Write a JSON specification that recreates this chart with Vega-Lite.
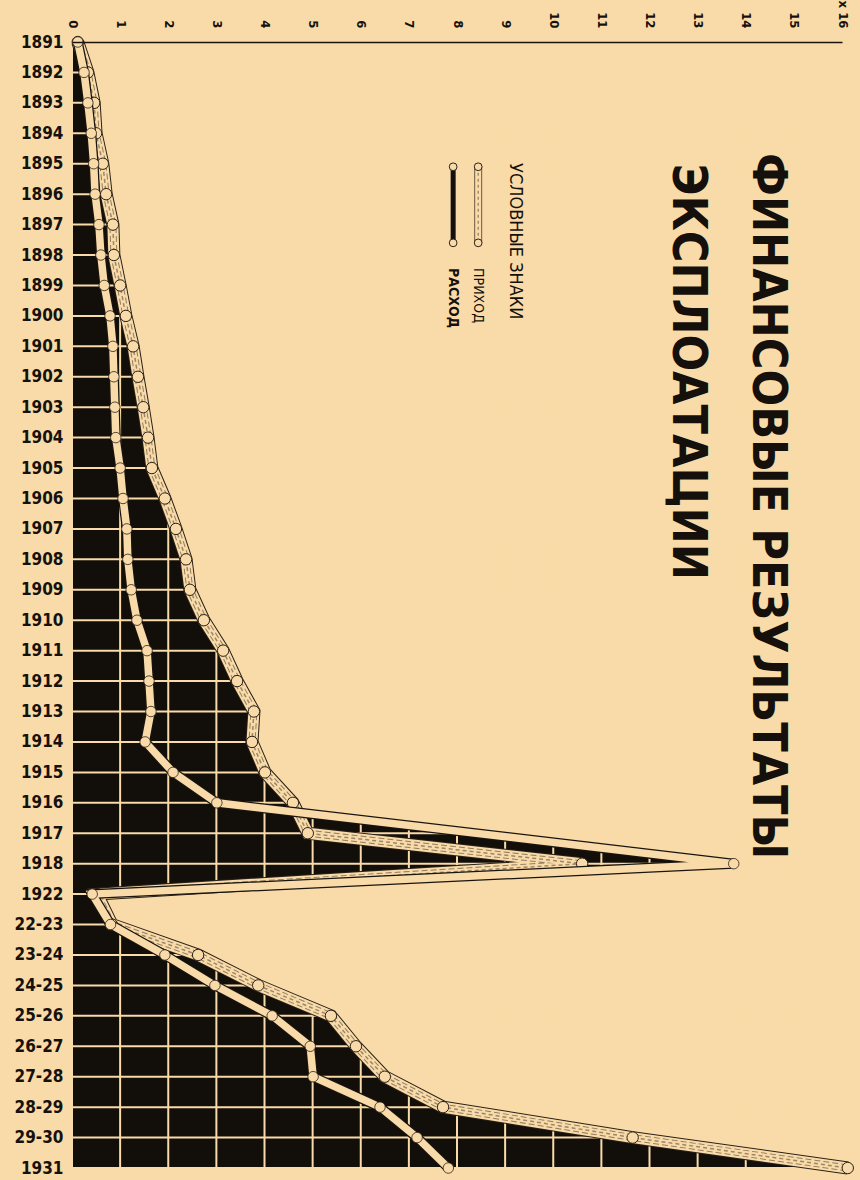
{
  "$schema": "https://vega.github.io/schema/vega-lite/v6.json",
  "width": 770,
  "height": 1126,
  "autosize": {"type": "none"},
  "padding": {"left": 72, "top": 42, "right": 18, "bottom": 12},
  "background": "#f9dba9",
  "config": {"view": {"stroke": null}},
  "resolve": {"axis": {"x": "independent", "y": "independent"}},
  "datasets": {
    "finance": [
      {"period": "1891", "i": 0, "income": 0.12, "expense": 0.12},
      {"period": "1892", "i": 1, "income": 0.33, "expense": 0.25},
      {"period": "1893", "i": 2, "income": 0.46, "expense": 0.33},
      {"period": "1894", "i": 3, "income": 0.5, "expense": 0.4},
      {"period": "1895", "i": 4, "income": 0.64, "expense": 0.45},
      {"period": "1896", "i": 5, "income": 0.71, "expense": 0.48},
      {"period": "1897", "i": 6, "income": 0.85, "expense": 0.56},
      {"period": "1898", "i": 7, "income": 0.87, "expense": 0.6},
      {"period": "1899", "i": 8, "income": 1.0, "expense": 0.67},
      {"period": "1900", "i": 9, "income": 1.12, "expense": 0.79},
      {"period": "1901", "i": 10, "income": 1.27, "expense": 0.85},
      {"period": "1902", "i": 11, "income": 1.37, "expense": 0.87},
      {"period": "1903", "i": 12, "income": 1.48, "expense": 0.89},
      {"period": "1904", "i": 13, "income": 1.58, "expense": 0.91},
      {"period": "1905", "i": 14, "income": 1.66, "expense": 1.0},
      {"period": "1906", "i": 15, "income": 1.93, "expense": 1.06},
      {"period": "1907", "i": 16, "income": 2.16, "expense": 1.14},
      {"period": "1908", "i": 17, "income": 2.37, "expense": 1.16},
      {"period": "1909", "i": 18, "income": 2.45, "expense": 1.23},
      {"period": "1910", "i": 19, "income": 2.74, "expense": 1.35},
      {"period": "1911", "i": 20, "income": 3.14, "expense": 1.56},
      {"period": "1912", "i": 21, "income": 3.43, "expense": 1.6},
      {"period": "1913", "i": 22, "income": 3.78, "expense": 1.64},
      {"period": "1914", "i": 23, "income": 3.74, "expense": 1.52},
      {"period": "1915", "i": 24, "income": 4.01, "expense": 2.1},
      {"period": "1916", "i": 25, "income": 4.59, "expense": 3.01},
      {"period": "1917", "i": 26, "income": 4.9, "expense": null},
      {"period": "1918", "i": 27, "income": 10.6, "expense": 13.75},
      {"period": "1922", "i": 28, "income": 0.52, "expense": 0.42},
      {"period": "22-23", "i": 29, "income": 0.83, "expense": 0.8},
      {"period": "23-24", "i": 30, "income": 2.62, "expense": 1.93},
      {"period": "24-25", "i": 31, "income": 3.87, "expense": 2.97},
      {"period": "25-26", "i": 32, "income": 5.38, "expense": 4.16},
      {"period": "26-27", "i": 33, "income": 5.9, "expense": 4.95},
      {"period": "27-28", "i": 34, "income": 6.5, "expense": 5.01},
      {"period": "28-29", "i": 35, "income": 7.71, "expense": 6.4},
      {"period": "29-30", "i": 36, "income": 11.65, "expense": 7.17},
      {"period": "1931", "i": 37, "income": 16.12, "expense": 7.82}
    ],
    "scaleTicks": [
      {"v": 0}, {"v": 1}, {"v": 2}, {"v": 3}, {"v": 4}, {"v": 5}, {"v": 6}, {"v": 7}, {"v": 8},
      {"v": 9}, {"v": 10}, {"v": 11}, {"v": 12}, {"v": 13}, {"v": 14}, {"v": 15}, {"v": 16}
    ]
  },
  "layer": [
    {
      "data": {"name": "finance"},
      "encoding": {
        "y": {
          "field": "i", "type": "quantitative",
          "scale": {"domain": [0, 37], "reverse": true, "nice": false, "zero": false},
          "axis": {
            "title": null,
            "values": [0,1,2,3,4,5,6,7,8,9,10,11,12,13,14,15,16,17,18,19,20,21,22,23,24,25,26,27,28,29,30,31,32,33,34,35,36,37],
            "labelExpr": "['1891','1892','1893','1894','1895','1896','1897','1898','1899','1900','1901','1902','1903','1904','1905','1906','1907','1908','1909','1910','1911','1912','1913','1914','1915','1916','1917','1918','1922','22-23','23-24','24-25','25-26','26-27','27-28','28-29','29-30','1931'][datum.value]",
            "labelOverlap": false,
            "domain": false,
            "ticks": false,
            "grid": false,
            "labelPadding": 9,
            "labelFont": "DejaVu Sans Condensed, DejaVu Sans, sans-serif",
            "labelFontSize": 17,
            "labelFontWeight": "bold",
            "labelColor": "#17110c"
          }
        }
      },
      "layer": [
        {
          "mark": {"type": "area", "orient": "horizontal", "color": "#120e09"},
          "encoding": {
            "x": {
              "field": "income", "type": "quantitative",
              "scale": {"domain": [0, 16], "nice": false, "zero": true},
              "axis": {
                "orient": "top",
                "title": null,
                "values": [0,1,2,3,4,5,6,7,8,9,10,11,12,13,14,15,16],
                "labelExpr": "datum.value == 16 ? 'x 16' : datum.label",
                "labelOverlap": false,
                "labelAngle": 90,
                "labelAlign": "right",
                "labelBaseline": "middle",
                "labelPadding": 14,
                "labelFont": "DejaVu Sans Condensed, DejaVu Sans, sans-serif",
                "labelFontSize": 13,
                "labelFontWeight": "bold",
                "labelColor": "#17110c",
                "ticks": false,
                "grid": false,
                "domainColor": "#1a140e",
                "domainWidth": 1.5,
                "zindex": 1
              }
            }
          }
        },
        {
          "transform": [{"filter": "datum.expense != null"}],
          "mark": {"type": "area", "orient": "horizontal", "color": "#120e09"},
          "encoding": {"x": {"field": "expense", "type": "quantitative"}}
        },
        {
          "mark": {"type": "rule", "color": "#f9dba9", "strokeWidth": 2},
          "encoding": {"x": {"datum": 0, "type": "quantitative"}, "x2": {"datum": 16}}
        }
      ]
    },
    {
      "data": {"name": "scaleTicks"},
      "mark": {"type": "rule", "color": "#f9dba9", "strokeWidth": 2},
      "encoding": {
        "x": {"field": "v", "type": "quantitative", "axis": null},
        "y": {"datum": 0, "type": "quantitative", "axis": null},
        "y2": {"datum": 37}
      }
    },
    {
      "data": {"name": "finance"},
      "encoding": {
        "y": {"field": "i", "type": "quantitative", "axis": null}
      },
      "layer": [
        {
          "mark": {"type": "line", "color": "#2b2118", "strokeWidth": 13},
          "encoding": {"x": {"field": "income", "type": "quantitative", "axis": null}, "order": {"field": "i", "type": "quantitative"}}
        },
        {
          "mark": {"type": "line", "color": "#f9dba9", "strokeWidth": 11},
          "encoding": {"x": {"field": "income", "type": "quantitative", "axis": null}, "order": {"field": "i", "type": "quantitative"}}
        },
        {
          "mark": {"type": "line", "color": "#2b2118", "strokeWidth": 7, "strokeDash": [6, 3], "opacity": 0.5},
          "encoding": {"x": {"field": "income", "type": "quantitative", "axis": null}, "order": {"field": "i", "type": "quantitative"}}
        },
        {
          "mark": {"type": "line", "color": "#f9dba9", "strokeWidth": 5},
          "encoding": {"x": {"field": "income", "type": "quantitative", "axis": null}, "order": {"field": "i", "type": "quantitative"}}
        },
        {
          "mark": {"type": "line", "color": "#2b2118", "strokeWidth": 1.5, "strokeDash": [4, 3], "opacity": 0.45},
          "encoding": {"x": {"field": "income", "type": "quantitative", "axis": null}, "order": {"field": "i", "type": "quantitative"}}
        },
        {
          "mark": {"type": "point", "filled": true, "fill": "#f9dba9", "stroke": "#2b2118", "strokeWidth": 1, "size": 130, "opacity": 1},
          "encoding": {"x": {"field": "income", "type": "quantitative", "axis": null}}
        },
        {
          "transform": [{"filter": "datum.expense != null"}],
          "mark": {"type": "line", "color": "#1a140e", "strokeWidth": 10},
          "encoding": {"x": {"field": "expense", "type": "quantitative", "axis": null}, "order": {"field": "i", "type": "quantitative"}}
        },
        {
          "transform": [{"filter": "datum.expense != null"}],
          "mark": {"type": "line", "color": "#f9dba9", "strokeWidth": 7.5},
          "encoding": {"x": {"field": "expense", "type": "quantitative", "axis": null}, "order": {"field": "i", "type": "quantitative"}}
        },
        {
          "transform": [{"filter": "datum.expense != null"}],
          "mark": {"type": "point", "filled": true, "fill": "#f9dba9", "stroke": "#2b2118", "strokeWidth": 0.8, "size": 110, "opacity": 1},
          "encoding": {"x": {"field": "expense", "type": "quantitative", "axis": null}}
        }
      ]
    },
    {
      "data": {"values": [{}]},
      "layer": [
        {
          "mark": {"type": "text", "text": "ФИНАНСОВЫЕ РЕЗУЛЬТАТЫ", "angle": 90, "align": "left", "baseline": "middle", "font": "DejaVu Sans Condensed, DejaVu Sans, sans-serif", "fontSize": 48, "fontWeight": "bold", "color": "#15100b"},
          "encoding": {"x": {"datum": 14.45, "type": "quantitative", "axis": null}, "y": {"datum": 3.65, "type": "quantitative", "axis": null}}
        },
        {
          "mark": {"type": "text", "text": "ЭКСПЛОАТАЦИИ", "angle": 90, "align": "left", "baseline": "middle", "font": "DejaVu Sans Condensed, DejaVu Sans, sans-serif", "fontSize": 48, "fontWeight": "bold", "color": "#15100b"},
          "encoding": {"x": {"datum": 12.77, "type": "quantitative", "axis": null}, "y": {"datum": 4.0, "type": "quantitative", "axis": null}}
        },
        {
          "mark": {"type": "text", "text": "УСЛОВНЫЕ ЗНАКИ", "angle": 90, "align": "left", "baseline": "middle", "font": "DejaVu Sans Condensed, DejaVu Sans, sans-serif", "fontSize": 18, "color": "#15100b"},
          "encoding": {"x": {"datum": 9.2, "type": "quantitative", "axis": null}, "y": {"datum": 3.98, "type": "quantitative", "axis": null}}
        },
        {
          "mark": {"type": "text", "text": "ПРИХОД", "angle": 90, "align": "left", "baseline": "middle", "font": "DejaVu Sans Condensed, DejaVu Sans, sans-serif", "fontSize": 14, "color": "#15100b"},
          "encoding": {"x": {"datum": 8.44, "type": "quantitative", "axis": null}, "y": {"datum": 7.43, "type": "quantitative", "axis": null}}
        },
        {
          "mark": {"type": "text", "text": "РАСХОД", "angle": 90, "align": "left", "baseline": "middle", "font": "DejaVu Sans Condensed, DejaVu Sans, sans-serif", "fontSize": 14, "fontWeight": "bold", "color": "#15100b"},
          "encoding": {"x": {"datum": 7.92, "type": "quantitative", "axis": null}, "y": {"datum": 7.43, "type": "quantitative", "axis": null}}
        },
        {
          "mark": {"type": "rule", "color": "#6b5a45", "strokeWidth": 8},
          "encoding": {"x": {"datum": 8.44, "type": "quantitative", "axis": null}, "y": {"datum": 4.1, "type": "quantitative", "axis": null}, "y2": {"datum": 6.6}}
        },
        {
          "mark": {"type": "rule", "color": "#f9dba9", "strokeWidth": 6},
          "encoding": {"x": {"datum": 8.44, "type": "quantitative", "axis": null}, "y": {"datum": 4.1, "type": "quantitative", "axis": null}, "y2": {"datum": 6.6}}
        },
        {
          "mark": {"type": "rule", "color": "#2b2118", "strokeWidth": 1, "strokeDash": [3, 3], "opacity": 0.6},
          "encoding": {"x": {"datum": 8.44, "type": "quantitative", "axis": null}, "y": {"datum": 4.1, "type": "quantitative", "axis": null}, "y2": {"datum": 6.6}}
        },
        {
          "mark": {"type": "rule", "color": "#15100b", "strokeWidth": 5},
          "encoding": {"x": {"datum": 7.92, "type": "quantitative", "axis": null}, "y": {"datum": 4.1, "type": "quantitative", "axis": null}, "y2": {"datum": 6.6}}
        },
        {
          "mark": {"type": "point", "filled": true, "fill": "#f9dba9", "stroke": "#2b2118", "strokeWidth": 1, "size": 60, "opacity": 1},
          "encoding": {"x": {"datum": 8.44, "type": "quantitative", "axis": null}, "y": {"datum": 4.1, "type": "quantitative", "axis": null}}
        },
        {
          "mark": {"type": "point", "filled": true, "fill": "#f9dba9", "stroke": "#2b2118", "strokeWidth": 1, "size": 60, "opacity": 1},
          "encoding": {"x": {"datum": 8.44, "type": "quantitative", "axis": null}, "y": {"datum": 6.6, "type": "quantitative", "axis": null}}
        },
        {
          "mark": {"type": "point", "filled": true, "fill": "#f9dba9", "stroke": "#2b2118", "strokeWidth": 1, "size": 60, "opacity": 1},
          "encoding": {"x": {"datum": 7.92, "type": "quantitative", "axis": null}, "y": {"datum": 4.1, "type": "quantitative", "axis": null}}
        },
        {
          "mark": {"type": "point", "filled": true, "fill": "#f9dba9", "stroke": "#2b2118", "strokeWidth": 1, "size": 60, "opacity": 1},
          "encoding": {"x": {"datum": 7.92, "type": "quantitative", "axis": null}, "y": {"datum": 6.6, "type": "quantitative", "axis": null}}
        }
      ]
    }
  ]
}
